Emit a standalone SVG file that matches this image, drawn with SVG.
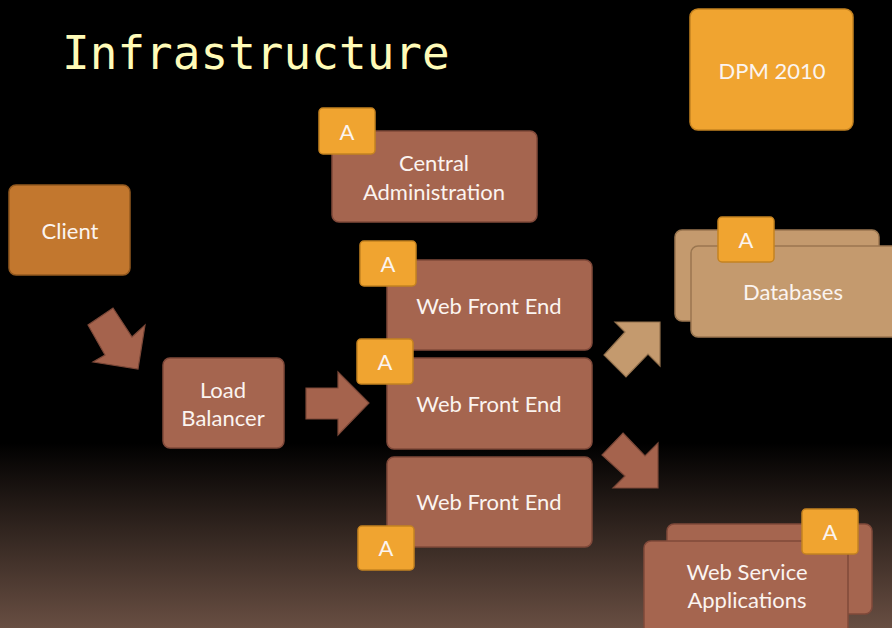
<svg xmlns="http://www.w3.org/2000/svg" width="892" height="628" viewBox="0 0 892 628">
<defs>
<linearGradient id="bg" x1="0" y1="0" x2="0" y2="628" gradientUnits="userSpaceOnUse">
<stop offset="0" stop-color="#000"/>
<stop offset="0.705" stop-color="#000"/>
<stop offset="1" stop-color="#684e42"/>
</linearGradient>
<style>
.t{font-family:Lato,"Open Sans",sans-serif;font-size:22px;fill:#fbf4f0;text-anchor:middle}
.brown{fill:#a5654f;stroke:#80493a;stroke-width:1.5}
.tan{fill:#c49a6e;stroke:#9a7650;stroke-width:1.5}
.orange{fill:#f0a430;stroke:#c48220;stroke-width:1.5}
.client{fill:#c2772e;stroke:#93591f;stroke-width:1.5}
.arr{fill:#a5634d;stroke:#7c4838;stroke-width:1.2}
.arrtan{fill:#c49a6e;stroke:#92704c;stroke-width:1.2}
</style>
</defs>
<rect width="892" height="628" fill="url(#bg)"/>
<text x="62" y="69" font-family="'DejaVu Sans Mono','Liberation Mono',monospace" font-size="46" fill="#fffbb8">Infrastructure</text>

<g id="connectors">
<polygon class="arr" points="113,308 132,337 145,325 138,369 93,362 105,355 88,325"/>
<polygon class="arr" points="306,388 338,388 338,372 369,403 338,435 338,419 306,419"/>
<polygon class="arrtan" points="615,322 660,322 660,366 648,354 626,377 604,355 625,332"/>
<polygon class="arr" points="623,433 645,456 658,443 658,488 613,488 625,476 602,455"/>
</g>

<g id="dpm">
<rect class="orange" x="690" y="9" width="163" height="121" rx="8"/>
<text class="t" x="772" y="79">DPM 2010</text>
</g>

<g id="client">
<rect class="client" x="9" y="185" width="121" height="90" rx="7"/>
<text class="t" x="70" y="239">Client</text>
</g>

<g id="loadbalancer">
<rect class="brown" x="163" y="358" width="121" height="90" rx="7"/>
<text class="t" x="223" y="398">Load</text>
<text class="t" x="223" y="426">Balancer</text>
</g>

<g id="centraladmin">
<rect class="brown" x="332" y="131" width="205" height="91" rx="7"/>
<text class="t" x="434" y="171">Central</text>
<text class="t" x="434" y="200">Administration</text>
<rect class="orange" x="319" y="108" width="56" height="46" rx="4"/>
<text class="t" x="347" y="140">A</text>
</g>

<g id="wfe1">
<rect class="brown" x="387" y="260" width="205" height="90" rx="7"/>
<text class="t" x="489" y="314">Web Front End</text>
<rect class="orange" x="360" y="241" width="56" height="45" rx="4"/>
<text class="t" x="388" y="272">A</text>
</g>

<g id="wfe2">
<rect class="brown" x="387" y="358" width="205" height="91" rx="7"/>
<text class="t" x="489" y="412">Web Front End</text>
<rect class="orange" x="357" y="339" width="56" height="45" rx="4"/>
<text class="t" x="385" y="370">A</text>
</g>

<g id="wfe3">
<rect class="brown" x="387" y="457" width="205" height="90" rx="7"/>
<text class="t" x="489" y="510">Web Front End</text>
<rect class="orange" x="358" y="526" width="56" height="44" rx="4"/>
<text class="t" x="386" y="556">A</text>
</g>

<g id="databases">
<rect class="tan" x="675" y="230" width="204" height="91" rx="7"/>
<rect class="tan" x="691" y="246" width="210" height="91" rx="7"/>
<text class="t" x="793" y="300">Databases</text>
<rect class="orange" x="718" y="217" width="56" height="45" rx="4"/>
<text class="t" x="746" y="248">A</text>
</g>

<g id="webservices">
<rect class="brown" x="667" y="524" width="205" height="90" rx="7"/>
<rect class="brown" x="644" y="541" width="204" height="100" rx="7"/>
<text class="t" x="747" y="580">Web Service</text>
<text class="t" x="747" y="608">Applications</text>
<rect class="orange" x="802" y="509" width="56" height="45" rx="4"/>
<text class="t" x="830" y="540">A</text>
</g>
</svg>
